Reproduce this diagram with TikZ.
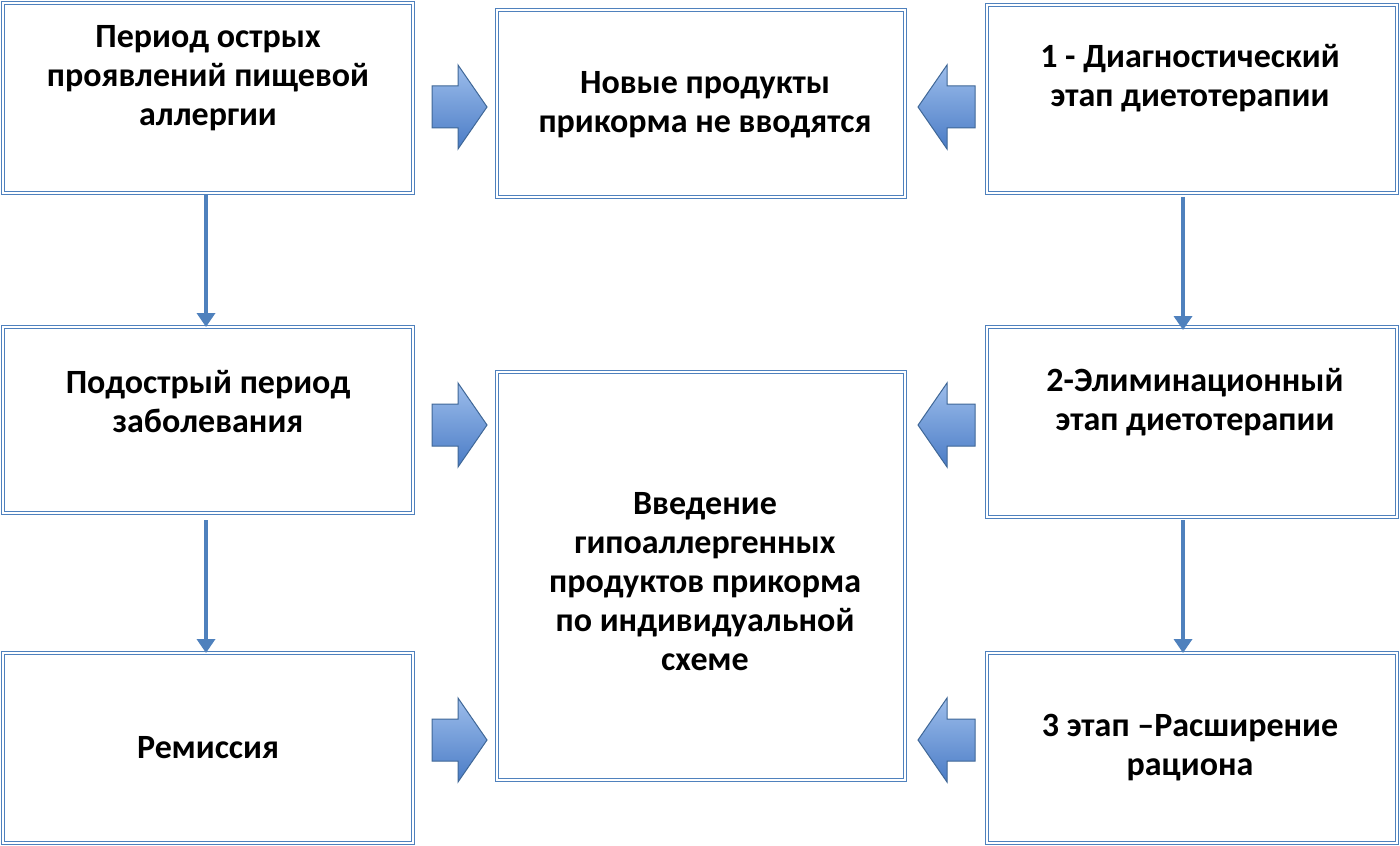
\documentclass[tikz,border=0pt]{standalone}
\usepackage{fontspec}
\setmainfont{Carlito}
\usetikzlibrary{arrows.meta}
\definecolor{bl}{HTML}{4F81BD}
\definecolor{bll}{HTML}{9DBDEB}
\definecolor{bld}{HTML}{4A7CC6}
\begin{document}
\begin{tikzpicture}[x=0.5pt,y=-0.5pt,
 box/.style={draw=bl,double=white,double distance=1.2pt,line width=0.5pt},
 txt/.style={font=\fontsize{17}{19.5}\selectfont\bfseries,align=center},
 thin/.style={draw=bl,line width=2pt,-{Triangle[length=7pt,width=9pt]}},
 blk/.style={draw=bl!80!black,line width=0.5pt,top color=bll,bottom color=bld}]
\useasboundingbox (0,0) rectangle (1400,845);
\fill[white] (0,0) rectangle (1400,845);
\draw[box] (3,3) rectangle (413,193);
\draw[box] (497,10) rectangle (905,197);
\draw[box] (987,5) rectangle (1397,193);
\draw[box] (3,327) rectangle (413,513);
\draw[box] (497,372) rectangle (905,780);
\draw[box] (987,327) rectangle (1397,517);
\draw[box] (3,653) rectangle (413,843);
\draw[box] (987,653) rectangle (1397,843);
\node[txt] (a) at (208,78) {Период острых\\проявлений пищевой\\аллергии};
\node[txt] (b) at (705,105) {Новые продукты\\прикорма не вводятся};
\node[txt] (c) at (1190,78) {1 - Диагностический\\этап диетотерапии};
\node[txt] (d) at (208,402) {Подострый период\\заболевания};
\node[txt] (e) at (705,582) {Введение\\гипоаллергенных\\продуктов прикорма\\по индивидуальной\\схеме};
\node[txt] (f) at (1195,402) {2-Элиминационный\\этап диетотерапии};
\node[txt] (g) at (208,748) {Ремиссия};
\node[txt] (h) at (1190,748) {3 этап –Расширение\\рациона};
\coordinate (a1) at (206,195); \coordinate (d0) at (206,327);
\coordinate (d1) at (206,520); \coordinate (g0) at (206,653);
\coordinate (c1) at (1183,197); \coordinate (f0) at (1183,330);
\coordinate (f1) at (1183,520); \coordinate (h0) at (1183,653);
\draw[thin] (a1) -- (d0);
\draw[thin] (d1) -- (g0);
\draw[thin] (c1) -- (f0);
\draw[thin] (f1) -- (h0);
\foreach \y in {107,425,740}{
 \draw[blk] (432,\y-21) -- (458,\y-21) -- (458,\y-42) -- (487,\y) -- (458,\y+42) -- (458,\y+21) -- (432,\y+21) -- cycle;
 \draw[blk] (975,\y-21) -- (947,\y-21) -- (947,\y-42) -- (918,\y) -- (947,\y+42) -- (947,\y+21) -- (975,\y+21) -- cycle;
}
\end{tikzpicture}
\end{document}
